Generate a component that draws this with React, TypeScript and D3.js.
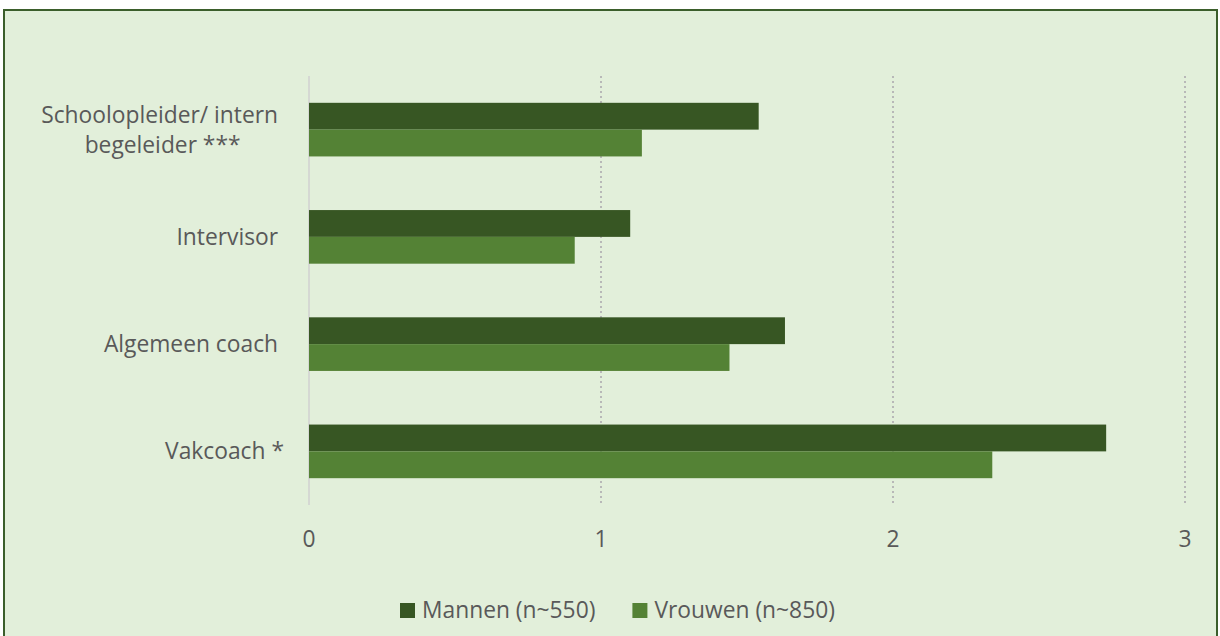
import { useRef, useEffect } from "react";
import * as d3 from "d3";

const W = 1220;
const H = 636;
const FONT = "'Open Sans', 'Liberation Sans', sans-serif";
const FS = "22.8px";

// "|" = regelafbreking zoals in de bron
const CATEGORIES = ["Schoolopleider/ intern |begeleider ***", "Intervisor ", "Algemeen coach ", "Vakcoach *"];
const SERIES = ["Mannen (n~550)", "Vrouwen (n~850)"];
const MANNEN = [1.54, 1.1, 1.63, 2.73];
const VROUWEN = [1.14, 0.91, 1.44, 2.34];
const X_TICKS = [0, 1, 2, 3];

const COLORS = ["#375623", "#548235"];
const BG = "#E2EFDA";
const TEXT = "#595959";

export default function App() {
  const ref = useRef<SVGSVGElement>(null);

  useEffect(() => {
    if (!ref.current) return;
    const svg = d3.select(ref.current);
    svg.selectAll("*").remove();

    const mg = { t: 76, b: 505, l: 309, r: 1185 };

    // Kader
    svg.append("rect")
      .attr("x", 0).attr("y", 0).attr("width", W).attr("height", H)
      .attr("fill", "#fff");
    svg.append("rect")
      .attr("x", 4).attr("y", 10).attr("width", 1213).attr("height", H)
      .attr("fill", BG).attr("stroke", "#3B5E2B").attr("stroke-width", 2);

    const x = d3.scaleLinear().domain([0, 3]).range([mg.l, mg.r]);
    const y = d3.scaleBand<number>()
      .domain(CATEGORIES.map((_, i) => i))
      .range([mg.t, mg.b])
      .paddingInner(0.5).paddingOuter(0.25);
    const ySub = d3.scaleBand<number>()
      .domain([0, 1])
      .range([0, y.bandwidth()]);

    // Grid
    X_TICKS.forEach((t) => {
      svg.append("line")
        .attr("x1", x(t)).attr("x2", x(t))
        .attr("y1", mg.t).attr("y2", mg.b)
        .attr("stroke", t === 0 ? "#D0D0D0" : "#B8B8B8")
        .attr("stroke-width", t === 0 ? 1.5 : 2)
        .attr("stroke-dasharray", t === 0 ? null : "2,3");
    });

    // Balken
    const values = [MANNEN, VROUWEN];
    values.forEach((vals, s) => {
      svg.selectAll(`.bar-${s}`).data(vals).join("rect")
        .attr("x", x(0))
        .attr("y", (_, i) => (y(i) ?? 0) + (ySub(s) ?? 0))
        .attr("width", (d) => x(d) - x(0))
        .attr("height", ySub.bandwidth())
        .attr("fill", COLORS[s]);
    });

    // Categorielabels: rechts uitgelijnd blok, regels onderling gecentreerd
    CATEGORIES.forEach((c, i) => {
      const lines = c.split("|");
      const cy = (y(i) ?? 0) + y.bandwidth() / 2;
      const lh = 30;
      const texts = lines.map((ln, j) =>
        svg.append("text")
          .attr("y", cy + (j - (lines.length - 1) / 2) * lh)
          .attr("dy", "0.35em")
          .attr("text-anchor", "middle")
          .style("white-space", "pre")
          .attr("fill", TEXT).attr("font-size", FS).attr("font-family", FONT)
          .text(ln)
      );
      const maxW = d3.max(texts, (t) => (t.node() as SVGTextElement).getComputedTextLength()) || 0;
      const right = 284;
      texts.forEach((t) => t.attr("x", right - maxW / 2));
    });

    // X-as labels
    X_TICKS.forEach((t) => {
      svg.append("text")
        .attr("x", x(t)).attr("y", 539).attr("dy", "0.35em")
        .attr("text-anchor", "middle")
        .attr("fill", TEXT).attr("font-size", FS).attr("font-family", FONT)
        .text(String(t));
    });

    // Legenda
    const lg = svg.append("g");
    let lx = 0;
    SERIES.forEach((s, i) => {
      lg.append("rect")
        .attr("x", lx).attr("y", 603).attr("width", 15).attr("height", 15)
        .attr("fill", COLORS[i]);
      const t = lg.append("text")
        .attr("x", lx + 22).attr("y", 610.5).attr("dy", "0.35em")
        .attr("fill", TEXT).attr("font-size", FS).attr("font-family", FONT)
        .text(s);
      lx += 22 + (t.node() as SVGTextElement).getComputedTextLength() + 37;
    });
    lg.attr("transform", "translate(400,0)");
  }, []);

  return (
    <svg
      ref={ref}
      width={W}
      height={H}
      style={{ position: "fixed", left: 0, top: 0, display: "block" }}
    />
  );
}
